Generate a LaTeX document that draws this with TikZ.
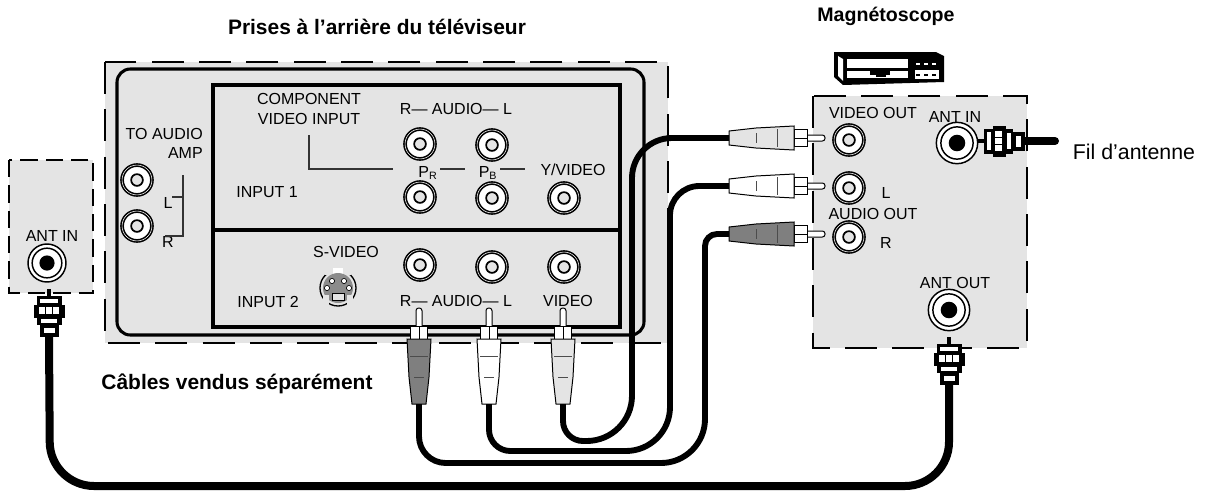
\documentclass[tikz,border=0pt]{standalone}
\usepackage{fontspec}
\setmainfont{Liberation Sans}
\usetikzlibrary{arrows.meta, positioning}
\definecolor{panel}{HTML}{E4E4E4}
\definecolor{darkplug}{HTML}{7F7F7F}
\tikzset{
  rcaplug/.pic={
    \draw[line width=0.75pt, fill=white, rounded corners=2pt] (-3,0) rectangle (3,27);
    \draw[line width=0.75pt, fill=white] (-8.5,18) rectangle (0,31);
    \draw[line width=0.75pt, fill=white] (0,18) rectangle (8.5,31);
    \draw[line width=0.75pt, fill=#1] (-12,31) -- (12,31) -- (10,69) -- (7,96) -- (-7,96) -- (-10,69) -- cycle;
    \draw[line width=0.6pt, black!70] (-9,48) -- (9,48);
    \draw[line width=0.6pt, black!70] (-5,69) -- (5,69);
    \coordinate (-end) at (0,96);
  },
  fconn/.pic={
    \fill (-2,-3) rectangle (2,5);
    \fill (-12.5,4) rectangle (12.5,13);
    \fill (-15.5,13) rectangle (15.5,26);
    \fill (-12.5,26) rectangle (12.5,33);
    \fill (-9.5,33) rectangle (9.5,45);
    \fill[white] (-9,7) rectangle (9,11);
    \fill[white] (-10,15) rectangle (-4,22);
    \fill[white] (-3,15) rectangle (3,22);
    \fill[white] (4,15) rectangle (10,22);
    \fill[white] (-8,27) rectangle (8,31);
    \fill[white] (-5.5,36) rectangle (5.5,41);
    \coordinate (-end) at (0,45);
  },
  svideo/.pic={
    \draw[line width=1pt, fill=panel] (0,0) circle (18);
    \fill[panel] (-13,-20) rectangle (13,-13);
    \fill[white] (-5,-20) rectangle (5,-13);
    \fill[black!45] (0,0) circle (15);
    \fill[panel] (-15,7) rectangle (-9,19);
    \fill[panel] (9,7) rectangle (15,19);
    \draw[line width=0.5pt, fill=white] (-6,-7) circle (2.6);
    \draw[line width=0.5pt, fill=white] (6,-7) circle (2.6);
    \draw[line width=0.5pt, fill=white] (-11,0) circle (2.6);
    \draw[line width=0.5pt, fill=white] (11,0) circle (2.6);
    \draw[line width=0.5pt, fill=panel] (-6,5) rectangle (6,12);
  },
  vcricon/.pic={
    \fill (0,2) -- (102,2) -- (110,6) -- (110,32) -- (9,35) -- (0,27) -- cycle;
    \fill[white] (4,6) -- (9,9) -- (9,31) -- (4,26) -- cycle;
    \fill[white] (13,9) rectangle (74,18);
    \fill[white] (13,21) rectangle (74,28);
    \fill (36,21) rectangle (56,25);
    \fill (42,25) rectangle (52,26.5);
    \fill[white] (80,9) rectangle (106,30);
    \draw[line width=1.5pt] (80,9) rectangle (106,30);
    \fill (80,9) rectangle (106,20);
    \draw[white, line width=0.8pt, dashed] (82,14) -- (105,14);
    \draw[line width=0.8pt, dashed] (82,25) -- (105,25);
  }
}
\begin{document}
\begin{tikzpicture}[
        x=0.75pt, y=-0.75pt,
        lbl/.style={inner sep=0pt, align=center, font=\fontsize{12}{14.6}\selectfont},
        ttl/.style={inner sep=0pt, font=\fontsize{15.7}{18}\selectfont\bfseries},
        bigpanel/.style={fill=panel, line width=1.1pt, dash pattern=on 24pt off 11.5pt},
        smallpanel/.style={fill=panel, line width=1.1pt, dash pattern=on 13pt off 6pt},
        wall/.style={line width=2.3pt},
        thinln/.style={line width=0.8pt, black!80},
        jack/.style={circle, draw, inner sep=0pt, minimum size=22.4pt, fill=white,
                     line width=1.2pt, double, double distance=0.4pt,
                     path picture={\draw[line width=1.3pt, fill=panel]
                        (path picture bounding box.center) circle (4.4pt);}},
        antjack/.style={circle, draw, inner sep=0pt, minimum size=#1, fill=white, line width=1.1pt,
                     path picture={\draw[line width=1.1pt] (path picture bounding box.center) circle (0.39*#1);
                        \fill[black] (path picture bounding box.center) circle (0.2*#1);}},
        rcacable/.style={line width=4.4pt},
        antcable/.style={line width=6pt}]
      \useasboundingbox (0,0) rectangle (1208,490);

      \draw[bigpanel] (105,62) rectangle (668,343);
      \draw[bigpanel] (813,96) rectangle (1027,348);
      \draw[smallpanel] (9,160) rectangle (93,293);
      \draw[wall, rounded corners=10pt] (117,69) rectangle (644,335);
      \draw[wall] (213,85) rectangle (620,327);
      \draw[line width=3.2pt] (213,230) -- (620,230);

      \node[ttl] (tvtitle) at (377,27) {Prises à l’arrière du téléviseur};
      \node[ttl, font=\fontsize{14.7}{18}\selectfont\bfseries] (vcrtitle) at (886,16) {Magnétoscope};
      \node[ttl] (soldtitle) at (237,384) {Câbles vendus séparément};
      \node[lbl, font=\fontsize{16}{18}\selectfont] (wirelbl) at (1134,152) {Fil d’antenne};

      \node[lbl, align=right, anchor=north east] (amplbl) at (203,128) {TO AUDIO\\AMP};
      \node[lbl] (amplbll) at (168,203) {L};
      \node[lbl] (amplblr) at (168,242) {R};
      \node[lbl] (complbl) at (309,109) {COMPONENT\\VIDEO INPUT};
      \node[lbl] (input1) at (267,192) {INPUT 1};
      \node[lbl] (input2) at (268,302) {INPUT 2};
      \node[lbl] (svlbl) at (346,252) {S-VIDEO};
      \node[lbl] (audio1) at (456,109) {R— AUDIO— L};
      \node[lbl] (audio2) at (456,301) {R— AUDIO— L};
      \node[lbl] (prlbl) at (428,173) {P\textsubscript{R}};
      \node[lbl] (pblbl) at (488,173) {P\textsubscript{B}};
      \node[lbl] (yvideo) at (573,170) {Y/VIDEO};
      \node[lbl] (videolbl) at (568,301) {VIDEO};
      \node[lbl] (voutlbl) at (873,113) {VIDEO OUT};
      \node[lbl] (aoutlbl) at (873,214) {AUDIO OUT};
      \node[lbl] (llbl) at (886,193) {L};
      \node[lbl] (rlbl) at (886,243) {R};
      \node[lbl] (antinlbl) at (955,117) {ANT IN};
      \node[lbl] (antoutlbl) at (955,283) {ANT OUT};
      \node[lbl] (tvantlbl) at (52,236) {ANT IN};

      \coordinate (compa) at (309,135);
      \coordinate (compb) at (393,169);
      \coordinate (dasha) at (440,169);
      \coordinate (dashb) at (465,169);
      \coordinate (dashc) at (500,169);
      \coordinate (dashd) at (525,169);
      \coordinate (brka) at (183,175);
      \coordinate (brkb) at (183,236);
      \coordinate (brkl) at (172,197);
      \coordinate (brkr) at (165,236);
      \draw[thinln] (compa) |- (compb);
      \draw[thinln] (dasha) -- (dashb);
      \draw[thinln] (dashc) -- (dashd);
      \draw[thinln] (brka) -- (brkb) -- (brkr);
      \draw[thinln] (brkl) -- (brkl -| brka);

      \node[jack] (ampl) at (137,180) {};
      \node[jack] (ampr) at (137,226) {};
      \node[jack] (inra) at (420,144) {};
      \node[jack] (inla) at (492,145) {};
      \node[jack] (inpr) at (420,197) {};
      \node[jack] (inpb) at (492,198) {};
      \node[jack] (iny) at (564,198) {};
      \node[jack] (inrb) at (420,265) {};
      \node[jack] (inlb) at (492,267) {};
      \node[jack] (invid) at (564,267) {};
      \node[jack] (vout) at (849,140) {};
      \node[jack] (lout) at (849,188) {};
      \node[jack] (rout) at (849,237) {};
      \node[antjack=28.5pt] (tvant) at (47,263) {};
      \node[antjack=31pt] (vcrin) at (957,143) {};
      \node[antjack=31pt] (vcrout) at (949,310) {};
      \pic at (338,288) {svideo};
      \pic at (834,50) {vcricon};

      \pic (plugd) at (419,308) {rcaplug=darkplug};
      \pic (plugw) at (489,308) {rcaplug=white};
      \pic (plugg) at (563,308) {rcaplug=panel};
      \pic[rotate=-90] (vidg) at (825,138) {rcaplug=panel};
      \pic[rotate=-90] (audw) at (825,186) {rcaplug=white};
      \pic[rotate=-90] (audd) at (825,234) {rcaplug=darkplug};
      \pic (fleft) at (49,292) {fconn};
      \pic (fright) at (949,340) {fconn};
      \pic[rotate=90] (fin) at (980,141) {fconn};

      \coordinate (wireend) at (1055,141);
      \coordinate (antlowa) at (50,486);
      \coordinate (antlowb) at (949,486);
      \coordinate (vida) at (563,441);
      \coordinate (vidb) at (632,441);
      \coordinate (vidc) at (632,138);
      \coordinate (wha) at (489,451);
      \coordinate (whb) at (670,451);
      \coordinate (whc) at (670,186);
      \coordinate (dka) at (419,463);
      \coordinate (dkb) at (705,463);
      \coordinate (dkc) at (705,234);
      \draw[antcable, line cap=round] (fin-end) -- (wireend);
      \draw[antcable, rounded corners=33pt] (fleft-end) -- (antlowa) -- (antlowb) -- (fright-end);
      \draw[rcacable] (plugg-end) [rounded corners=15pt] -- (vida) [rounded corners=34pt] -- (vidb) [rounded corners=30pt] -- (vidc) -- (vidg-end);
      \draw[rcacable] (plugw-end) [rounded corners=16pt] -- (wha) [rounded corners=33pt] -- (whb) [rounded corners=22pt] -- (whc) -- (audw-end);
      \draw[rcacable] (plugd-end) [rounded corners=20pt] -- (dka) [rounded corners=33pt] -- (dkb) [rounded corners=9pt] -- (dkc) -- (audd-end);
    \end{tikzpicture}
\end{document}
